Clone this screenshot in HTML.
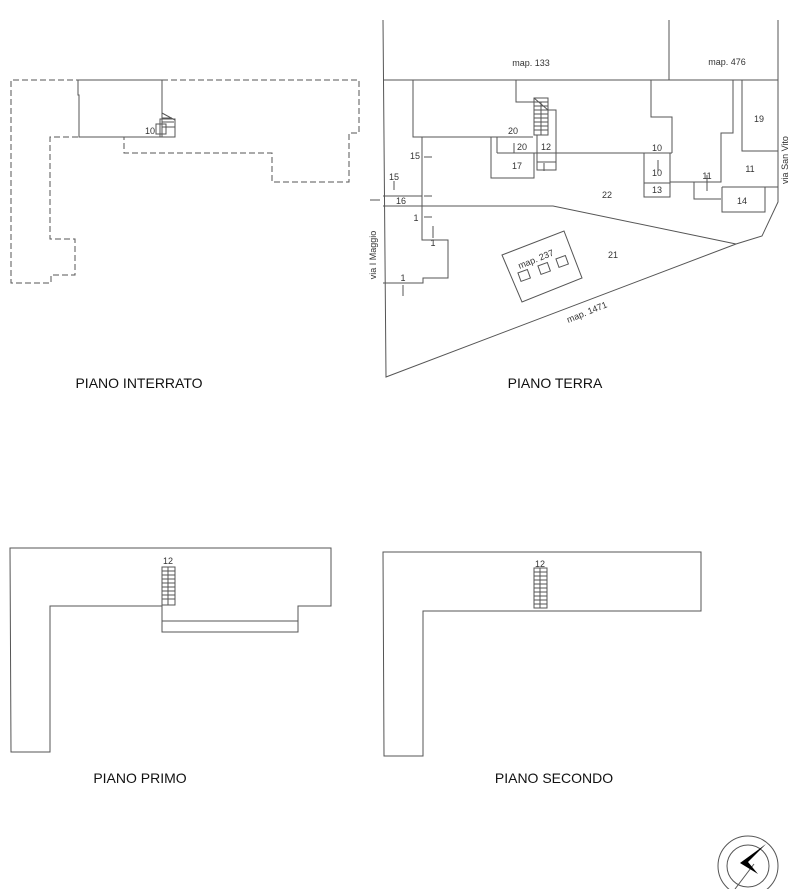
<!DOCTYPE html>
<html><head><meta charset="utf-8"><style>
html,body{margin:0;padding:0;background:#fff;}
svg{display:block;font-family:"Liberation Sans",sans-serif;}
</style></head><body>
<svg width="803" height="889" viewBox="0 0 803 889" xmlns="http://www.w3.org/2000/svg">
<g fill="none" stroke="#555" stroke-width="1">
<!-- PIANO INTERRATO -->
<path d="M162,80 H359 V133 H349 V182 H272 V153 H124 V137 M78,137 H50 V239 H75 V275 H51 V283 H11 V80 H78" stroke-dasharray="6,3"/>
<path d="M78,80 H162 V137 M78,80 V95 H79 V137 H175 V120 L162,113"/>
<rect x="160" y="119" width="15" height="18"/>
<rect x="156" y="124" width="10" height="10"/>
<path d="M162,118 H172 M162,122 H174 M162,127 H175"/>

<!-- PIANO TERRA -->
<path d="M383,20 L386,377 L736,244 L762,236 L778,202 V20 M669,20 V80 M383,80 H778"/>
<path d="M422,206 H553 L736,244"/>
<path d="M413,80 V137 H533 M422,137 V240 H448 V278 H423 V283 H383"/>
<path d="M383,196 H422 M383,206 H422"/>
<path d="M497,153 H672 M491,137 V178 H534 V153 M497,137 V153"/>
<rect x="534" y="98" width="14" height="37"/>
<path d="M534,102 H548 M534,106 H548 M534,110 H548 M534,114 H548 M534,118 H548 M534,122 H548 M534,126 H548 M534,130 H548 M541,102 V135 M534,98 L548,110"/>
<path d="M548,110 H556 V170 H537 V135 M537,162 H556"/>
<path d="M516,80 V102 H534"/>
<path d="M651,80 V117 H672 V153 M644,153 V197 H670 V153 M644,183 H670 M670,182 H721 V133 H733 V80"/>
<path d="M694,182 V199 H721 M722,187 H765 V212 H722 V187 M765,187 H778 M742,80 V151 H778"/>
<path d="M502,255 L564,231 L582,278 L522,302 Z"/>
<rect x="519" y="271" width="10" height="9" transform="rotate(-20 524 275)"/>
<rect x="539" y="264" width="10" height="9" transform="rotate(-20 544 268)"/>
<rect x="557" y="257" width="10" height="9" transform="rotate(-20 562 261)"/>
<!-- small door markers -->
<path d="M424,157 H432 M424,196 H432 M424,217 H432 M394,181 V190 M370,200 H380 M433,226 V238 M403,285 V296 M514,143 V153 M544,163 V171 M658,160 V171 M707,175 V191"/>

<!-- PIANO PRIMO -->
<path d="M10,548 H331 V606 H298 V632 H162 V606 H50 V752 H11 Z M162,621 H298"/>
<rect x="162" y="567" width="13" height="38"/>
<path d="M162,571 H175 M162,575 H175 M162,579 H175 M162,583 H175 M162,587 H175 M162,591 H175 M162,595 H175 M162,599 H175 M168,567 V605"/>

<!-- PIANO SECONDO -->
<path d="M383,552 H701 V611 H423 V756 H384 Z"/>
<rect x="534" y="568" width="13" height="40"/>
<path d="M534,572 H547 M534,576 H547 M534,580 H547 M534,584 H547 M534,588 H547 M534,592 H547 M534,596 H547 M534,600 H547 M534,604 H547 M540,568 V608"/>

<!-- compass -->
<circle cx="748" cy="866" r="30"/>
<circle cx="748" cy="866" r="21"/>
<path d="M735,889 L754,864"/>
</g>
<path d="M766,844 L740,863 L758,874 L748,862 Z" fill="#000"/>

<g font-size="9" fill="#333" text-anchor="middle">
<text x="150" y="134">10</text>
<text x="531" y="66">map. 133</text>
<text x="727" y="65">map. 476</text>
<text x="759" y="122">19</text>
<text x="513" y="134">20</text>
<text x="522" y="150">20</text>
<text x="546" y="150">12</text>
<text x="517" y="169">17</text>
<text x="657" y="151">10</text>
<text x="657" y="176">10</text>
<text x="657" y="193">13</text>
<text x="607" y="198">22</text>
<text x="707" y="179">11</text>
<text x="750" y="172">11</text>
<text x="742" y="204">14</text>
<text x="415" y="159">15</text>
<text x="394" y="180">15</text>
<text x="401" y="204">16</text>
<text x="416" y="221">1</text>
<text x="433" y="246">1</text>
<text x="403" y="281">1</text>
<text x="613" y="258">21</text>
<text transform="translate(537,262) rotate(-22)">map. 237</text>
<text transform="translate(588,315) rotate(-22)">map. 1471</text>
<text transform="translate(376,255) rotate(-90)">via I Maggio</text>
<text transform="translate(788,160) rotate(-90)">via San Vito</text>
<text x="168" y="564">12</text>
<text x="540" y="567">12</text>
</g>
<g font-size="14" fill="#111" text-anchor="middle">
<text x="139" y="388">PIANO INTERRATO</text>
<text x="555" y="388">PIANO TERRA</text>
<text x="140" y="783">PIANO PRIMO</text>
<text x="554" y="783">PIANO SECONDO</text>
</g>
</svg>
</body></html>
